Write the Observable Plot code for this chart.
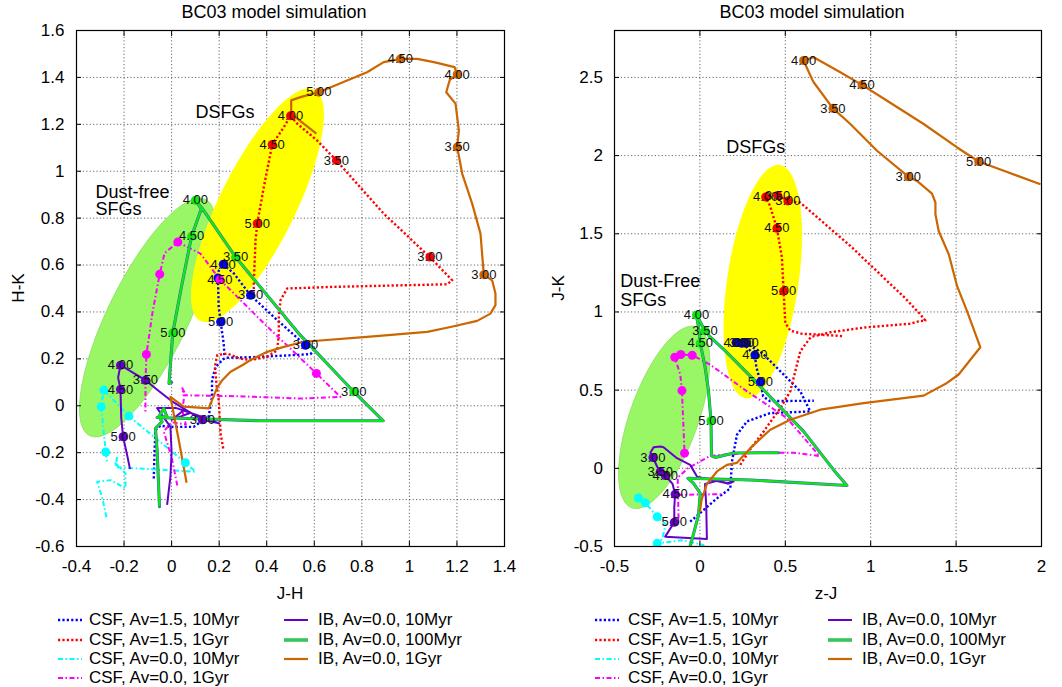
<!DOCTYPE html>
<html>
<head>
<meta charset="utf-8">
<script src="https://cdn.jsdelivr.net/npm/d3@7"></script>
<script src="https://cdn.jsdelivr.net/npm/@observablehq/plot@0.6"></script>
<style>
  body { margin: 0; background: #fff; }
  #wrap { position: relative; width: 1062px; height: 687px; overflow: hidden;
          font-family: "Liberation Sans", Arial, Helvetica, sans-serif; color: #000; }
  .abs { position: absolute; white-space: nowrap; }
  .title { font-size: 18px; line-height: 18px; top: 3px; transform: translateX(-50%); }
  .axlab { font-size: 17px; line-height: 17px; }
  .leg { font-size: 17px; line-height: 17px; }
</style>
</head>
<body>
<div id="wrap"></div>
<script>
// ---------- series names (legend order) ----------
const seriesNames = [
  "CSF, Av=1.5, 10Myr", "CSF, Av=1.5, 1Gyr", "CSF, Av=0.0, 10Myr", "CSF, Av=0.0, 1Gyr",
  "IB, Av=0.0, 10Myr", "IB, Av=0.0, 100Myr", "IB, Av=0.0, 1Gyr"
];

// ---------- left panel: J-H (x) vs H-K (y) ----------
const hkCsf15_10Myr = [[-0.075,-0.31],[-0.072,-0.2],[-0.068,-0.104],[-0.047,-0.085],[-0.005,-0.09],[0.093,-0.09],[0.156,-0.045],[0.17,0.038],[0.17,0.109],[0.185,0.166],[0.219,0.2],[0.234,0.205],[0.332,0.207],[0.472,0.214],[0.584,0.22],[0.605,0.244],[0.563,0.258],[0.45,0.36],[0.332,0.471],[0.262,0.564],[0.217,0.603],[0.198,0.575],[0.195,0.54],[0.198,0.422],[0.206,0.358],[0.219,0.266],[0.222,0.215]];
const hkCsf15_1Gyr = [[0.217,-0.182],[0.206,-0.118],[0.198,0.024],[0.19,0.08],[0.182,0.166],[0.192,0.216],[0.234,0.223],[0.283,0.202],[0.332,0.195],[0.402,0.209],[0.444,0.237],[0.451,0.308],[0.451,0.379],[0.458,0.45],[0.486,0.5],[0.682,0.507],[1.159,0.518],[1.18,0.535],[1.086,0.634],[0.892,0.819],[0.693,1.046],[0.612,1.131],[0.528,1.203],[0.5,1.236],[0.472,1.188],[0.423,1.114],[0.388,0.933],[0.36,0.777],[0.353,0.706],[0.346,0.535],[0.345,0.47]];
const hkCsf00_10Myr = [[-0.274,-0.475],[-0.29,-0.4],[-0.313,-0.324],[-0.257,-0.317],[-0.194,-0.352],[-0.194,-0.288],[-0.236,-0.245],[-0.229,-0.217],[-0.236,-0.262],[0.1,-0.281],[0.058,-0.243],[-0.18,-0.044],[-0.285,0.067],[-0.296,-0.004],[-0.277,-0.197],[-0.272,-0.24]];
const hkCsf00_1Gyr = [[0.024,-0.34],[0.0,-0.22],[-0.033,-0.11],[0.0,-0.07],[0.06,-0.08],[0.045,-0.02],[0.055,0.055],[0.045,0.075],[0.05,0.045],[0.3,0.04],[0.542,0.031],[0.71,0.038],[0.609,0.138],[0.4,0.34],[0.203,0.538],[0.121,0.649],[0.026,0.698],[-0.03,0.65],[-0.05,0.561],[-0.08,0.4],[-0.106,0.219],[-0.11,0.1],[-0.11,-0.03]];
const hkIb_10Myr = [[-0.019,-0.423],[-0.005,-0.302],[0.0,-0.2],[-0.005,-0.09],[-0.061,-0.01],[0.02,-0.01],[0.08,-0.03],[0.0,-0.06],[0.05,-0.02],[0.15,-0.055],[0.2,-0.075],[0.129,-0.06],[0.0,0.02],[-0.05,0.06],[-0.11,0.109],[-0.215,0.173],[-0.225,0.12],[-0.215,0.07],[-0.212,-0.05],[-0.204,-0.132],[-0.185,-0.22],[-0.175,-0.27]];
const hkIb_100Myr = [[-0.051,-0.43],[-0.061,-0.189],[-0.068,-0.096],[-0.04,-0.068],[-0.054,-0.047],[-0.033,-0.011],[-0.02,-0.045],[-0.061,-0.05],[0.374,-0.064],[0.89,-0.064],[0.766,0.06],[0.542,0.3],[0.269,0.634],[0.13,0.84],[0.1,0.876],[0.125,0.84],[0.084,0.723],[0.04,0.5],[0.005,0.311],[-0.011,0.095],[0.0,0.1]];
const hkIb_1Gyr = [[0.063,-0.328],[0.03,-0.146],[-0.005,0.038],[0.051,-0.004],[0.156,-0.011],[0.19,0.074],[0.213,0.109],[0.248,0.145],[0.297,0.173],[0.332,0.195],[0.402,0.23],[0.472,0.251],[0.556,0.273],[0.822,0.294],[1.075,0.315],[1.173,0.336],[1.285,0.362],[1.341,0.393],[1.362,0.429],[1.362,0.479],[1.348,0.535],[1.313,0.559],[1.299,0.734],[1.264,0.862],[1.222,0.99],[1.201,1.103],[1.208,1.174],[1.194,1.288],[1.155,1.337],[1.17,1.39],[1.201,1.413],[1.19,1.444],[1.103,1.465],[1.033,1.479],[0.962,1.479],[0.892,1.465],[0.822,1.422],[0.738,1.387],[0.619,1.337],[0.542,1.316],[0.503,1.302],[0.503,1.245],[0.609,1.16]];

// redshift markers on the left-panel tracks: [J-H, H-K, label]
const hkCsf15_10Myr_z = [[0.563,0.258,"3.00"],[0.332,0.471,"3.50"],[0.217,0.603,"4.00"],[0.195,0.545,""],[0.206,0.358,"5.00"]];
const hkCsf15_1Gyr_z = [[1.086,0.634,"3.00"],[0.693,1.046,"3.50"],[0.5,1.236,"4.00"],[0.423,1.114,"4.50"],[0.36,0.777,"5.00"]];
const hkCsf00_10Myr_z = [[0.058,-0.243,""],[-0.18,-0.044,""],[-0.285,0.067,""],[-0.296,-0.004,""],[-0.277,-0.197,""]];
const hkCsf00_1Gyr_z = [[0.609,0.138,""],[0.203,0.538,"4.50"],[0.026,0.698,""],[-0.05,0.561,""],[-0.106,0.219,""]];
const hkIb_10Myr_z = [[0.129,-0.06,"3.00"],[-0.11,0.109,"3.50"],[-0.215,0.173,"4.00"],[-0.215,0.07,"4.50"],[-0.204,-0.132,"5.00"]];
const hkIb_100Myr_z = [[0.766,0.06,"3.00"],[0.269,0.634,"3.50"],[0.1,0.876,"4.00"],[0.084,0.723,"4.50"],[0.005,0.311,"5.00"]];
const hkIb_1Gyr_z = [[1.313,0.559,"3.00"],[1.201,1.103,"3.50"],[1.201,1.413,"4.00"],[0.962,1.479,"4.50"],[0.619,1.337,"5.00"]];

// ---------- right panel: z-J (x) vs J-K (y) ----------
const jkCsf15_10Myr = [[-0.057,-0.341],[0.1,-0.192],[0.178,-0.128],[0.188,0.044],[0.217,0.215],[0.276,0.3],[0.412,0.353],[0.607,0.362],[0.646,0.364],[0.588,0.492],[0.51,0.578],[0.364,0.738],[0.27,0.8],[0.245,0.8],[0.212,0.805],[0.26,0.79],[0.322,0.725],[0.33,0.65],[0.354,0.553],[0.37,0.46],[0.41,0.43],[0.667,0.432]];
const jkCsf15_1Gyr = [[0.236,0.022],[0.3,0.13],[0.373,0.236],[0.471,0.385],[0.529,0.492],[0.588,0.749],[0.65,0.84],[0.764,0.87],[0.959,0.9],[1.232,0.925],[1.281,0.94],[1.32,0.945],[1.291,0.984],[1.2,1.09],[0.881,1.422],[0.588,1.699],[0.515,1.71],[0.455,1.745],[0.385,1.735],[0.41,1.68],[0.451,1.535],[0.48,1.35],[0.49,1.133],[0.5,0.93],[0.53,0.88],[0.6,0.86],[0.686,0.856],[0.842,0.845]];
const jkCsf00_10Myr = [[-0.36,-0.19],[-0.32,-0.22],[-0.25,-0.31],[-0.2,-0.36],[-0.22,-0.45],[-0.25,-0.48],[-0.1,-0.46],[0.02,-0.49],[0.05,-0.56]];
const jkCsf00_1Gyr = [[-0.125,-0.32],[-0.13,-0.06],[-0.07,0.0],[0.06,0.08],[0.3,0.1],[0.55,0.1],[0.7,0.078],[0.51,0.321],[0.276,0.492],[0.06,0.663],[-0.045,0.723],[-0.112,0.728],[-0.147,0.71],[-0.115,0.6],[-0.105,0.497],[-0.09,0.097],[NaN,NaN],[-0.13,-0.17],[0.14,-0.165]];
const jkIb_10Myr = [[0.16,-0.1],[0.197,-0.085],[0.158,-0.096],[-0.017,-0.053],[-0.057,0.022],[-0.134,0.065],[-0.213,0.135],[-0.232,0.14],[-0.271,0.135],[-0.29,0.1],[-0.275,0.069],[-0.25,0.01],[-0.232,-0.021],[-0.203,-0.046],[-0.16,-0.1],[-0.145,-0.166],[-0.15,-0.25],[-0.15,-0.345],[-0.203,-0.437],[0.041,-0.452],[0.037,-0.234],[0.03,-0.1],[0.1,-0.08],[0.178,-0.074]];
const jkIb_100Myr = [[-0.057,-0.5],[-0.008,-0.298],[0.002,-0.16],[-0.037,-0.096],[-0.07,-0.064],[0.3,-0.075],[0.861,-0.11],[0.783,-0.01],[0.607,0.236],[0.334,0.546],[0.15,0.75],[0.06,0.84],[0.03,0.88],[-0.02,0.98],[-0.005,0.88],[0.002,0.8],[0.03,0.65],[0.05,0.5],[0.065,0.304],[0.068,0.08],[0.09,0.07],[0.2,0.098],[0.46,0.1]];
const jkIb_1Gyr = [[0.0,-0.28],[0.01,-0.2],[0.041,-0.1],[0.1,-0.02],[0.158,0.022],[0.217,0.035],[0.295,0.129],[0.412,0.247],[0.529,0.311],[0.705,0.375],[0.959,0.417],[1.31,0.465],[1.447,0.546],[1.515,0.6],[1.642,0.774],[1.564,1.005],[1.506,1.165],[1.457,1.369],[1.398,1.518],[1.379,1.625],[1.379,1.7],[1.359,1.757],[1.271,1.838],[1.22,1.865],[1.037,2.031],[0.881,2.202],[0.779,2.302],[0.666,2.469],[0.656,2.49],[0.607,2.608],[0.666,2.629],[0.822,2.533],[0.949,2.452],[1.096,2.351],[1.31,2.202],[1.506,2.052],[1.632,1.962],[1.779,1.903],[1.994,1.817]];

// redshift markers on the right-panel tracks: [z-J, J-K, label]
const jkCsf15_10Myr_z = [[0.27,0.8,"3.00"],[0.245,0.8,"3.50"],[0.212,0.805,"4.00"],[0.322,0.725,"4.50"],[0.354,0.553,"5.00"]];
const jkCsf15_1Gyr_z = [[0.515,1.71,"3.00"],[0.455,1.745,"3.50"],[0.385,1.735,"4.00"],[0.451,1.535,"4.50"],[0.49,1.133,"5.00"]];
const jkCsf00_10Myr_z = [[-0.36,-0.19,""],[-0.32,-0.22,""],[-0.25,-0.31,""],[-0.25,-0.48,""]];
const jkCsf00_1Gyr_z = [[-0.147,0.71,""],[-0.112,0.728,""],[-0.045,0.723,""],[-0.105,0.497,""],[-0.09,0.097,""]];
const jkIb_10Myr_z = [[-0.275,0.069,"3.00"],[-0.232,-0.021,"3.50"],[-0.203,-0.046,"4.00"],[-0.145,-0.166,"4.50"],[-0.15,-0.345,"5.00"]];
const jkIb_100Myr_z = [[0.03,0.88,"3.50"],[-0.02,0.98,"4.00"],[0.002,0.8,"4.50"],[0.065,0.304,"5.00"]];
const jkIb_1Gyr_z = [[1.22,1.865,"3.00"],[0.779,2.302,"3.50"],[0.607,2.608,"4.00"],[0.949,2.452,"4.50"],[1.632,1.962,"5.00"]];

// ---------- galaxy-population regions: [cx, cy, top-dx, top-dy, half-width] ----------
const hkDustFree = [-0.101, 0.376, 0.2187, 0.5089, 0.185];
const hkDsfg = [0.361, 0.855, 0.2166, 0.4983, 0.1766];
const jkDustFree = [-0.209, 0.326, 0.164, 0.5833, 0.2109];
const jkDsfg = [0.368, 1.194, 0.0908, 0.7468, 0.2109];

const hkRegionText = [["DSFGs", 0.1, 1.251], ["Dust-free", -0.32, 0.912], ["SFGs", -0.32, 0.838]];
const jkRegionText = [["DSFGs", 0.154, 2.053], ["Dust-Free", -0.466, 1.197], ["SFGs", -0.466, 1.076]];

// ---------- axis ticks ----------
const hkXTicks = [-0.4, -0.2, 0, 0.2, 0.4, 0.6, 0.8, 1, 1.2, 1.4];
const hkYTicks = [-0.6, -0.4, -0.2, 0, 0.2, 0.4, 0.6, 0.8, 1, 1.2, 1.4, 1.6];
const jkXTicks = [-0.5, 0, 0.5, 1, 1.5, 2];
const jkYTicks = [-0.5, 0, 0.5, 1, 1.5, 2, 2.5];

// ---------- line styles, one per series ----------
const styles = [
  {color: "#0000ff", width: 2.4, dash: "2.2,2.2"},
  {color: "#ff0000", width: 2.4, dash: "2.2,2.2"},
  {color: "#00ffff", width: 2, dash: "5,2.5,1.5,2.5"},
  {color: "#ff00ff", width: 2, dash: "5,2.5,1.5,2.5"},
  {color: "#6600cc", width: 2, dash: null},
  {color: "#11e811", width: 2.2, dash: null, under: "#3a62c8"},
  {color: "#cc6600", width: 2.2, dash: null}
];

const fmt = d => String(Math.round(d * 10) / 10);
const X = d => d[0], Y = d => d[1];

// Outline of a tilted ellipse from its centre, the offset of its top point and its half-width
function ellipseRing([cx, cy, tx, ty, w]) {
  return d3.range(0, 360, 3).map(a => {
    const t = a * Math.PI / 180;
    return [cx + tx * Math.cos(t) + w * Math.sin(t), cy + ty * Math.cos(t)];
  });
}

function panel(cfg) {
  const grid = {stroke: "#000", strokeOpacity: 0.6, strokeDasharray: "1.2,2.2"};
  const marks = [
    Plot.gridX(cfg.xTicks, grid),
    Plot.gridY(cfg.yTicks, grid),
    Plot.line(ellipseRing(cfg.dustFree), {x: X, y: Y, fill: "#99f766", stroke: "#86e05a", strokeWidth: 0.8, curve: "linear-closed"}),
    Plot.line(ellipseRing(cfg.dsfg), {x: X, y: Y, fill: "#ffff00", stroke: "none", curve: "linear-closed"}),
    Plot.text(cfg.regionText, {x: d => d[1], y: d => d[2], text: d => d[0], textAnchor: "start", fontSize: 18, fill: "#000"})
  ];
  cfg.tracks.forEach((t, i) => {
    const s = styles[i];
    if (s.under) marks.push(Plot.line(t, {x: X, y: Y, stroke: s.under, strokeWidth: s.width + 0.9, clip: true}));
    marks.push(Plot.line(t, {x: X, y: Y, stroke: s.color, strokeWidth: s.width,
      strokeDasharray: s.dash, strokeLinecap: "butt", clip: true}));
  });
  cfg.markers.forEach((m, i) => {
    marks.push(Plot.dot(m, {x: X, y: Y, r: 4.5, fill: styles[i].color, stroke: "none", clip: true}));
  });
  cfg.markers.forEach(m => {
    marks.push(Plot.text(m.filter(d => d[2]), {x: X, y: Y, text: d => d[2], fontSize: 13, fill: "#111"}));
  });
  marks.push(
    Plot.axisX(cfg.xTicks, {anchor: "bottom", tickSize: -5, tickPadding: 18, tickFormat: fmt, fontSize: 17, label: null}),
    Plot.axisX(cfg.xTicks, {anchor: "top", tickSize: -5, tickFormat: () => "", label: null}),
    Plot.axisY(cfg.yTicks, {anchor: "left", tickSize: -5, tickPadding: cfg.yPad, tickFormat: fmt, fontSize: 17, label: null}),
    Plot.axisY(cfg.yTicks, {anchor: "right", tickSize: -5, tickFormat: () => "", label: null}),
    Plot.frame({stroke: "#000", strokeWidth: 1.2})
  );
  return Plot.plot({
    width: 531, height: 600,
    marginLeft: cfg.marginLeft, marginRight: cfg.marginRight, marginTop: 30, marginBottom: 54,
    x: {domain: cfg.xDomain, label: null},
    y: {domain: cfg.yDomain, label: null},
    style: {fontFamily: "Liberation Sans, Arial, Helvetica, sans-serif", fontSize: "17px", background: "none", overflow: "visible", color: "#000"},
    marks
  });
}

const wrap = d3.select("#wrap");

const left = panel({
  xDomain: [-0.4, 1.4], yDomain: [-0.6, 1.6], xTicks: hkXTicks, yTicks: hkYTicks,
  marginLeft: 76, marginRight: 27, yPad: 17,
  dustFree: hkDustFree, dsfg: hkDsfg, regionText: hkRegionText,
  tracks: [hkCsf15_10Myr, hkCsf15_1Gyr, hkCsf00_10Myr, hkCsf00_1Gyr, hkIb_10Myr, hkIb_100Myr, hkIb_1Gyr],
  markers: [hkCsf15_10Myr_z, hkCsf15_1Gyr_z, hkCsf00_10Myr_z, hkCsf00_1Gyr_z, hkIb_10Myr_z, hkIb_100Myr_z, hkIb_1Gyr_z]
});
const right = panel({
  xDomain: [-0.5, 2], yDomain: [-0.5, 2.8], xTicks: jkXTicks, yTicks: jkYTicks,
  marginLeft: 83, marginRight: 21, yPad: 16.5,
  dustFree: jkDustFree, dsfg: jkDsfg, regionText: jkRegionText,
  tracks: [jkCsf15_10Myr, jkCsf15_1Gyr, jkCsf00_10Myr, jkCsf00_1Gyr, jkIb_10Myr, jkIb_100Myr, jkIb_1Gyr],
  markers: [jkCsf15_10Myr_z, jkCsf15_1Gyr_z, jkCsf00_10Myr_z, jkCsf00_1Gyr_z, jkIb_10Myr_z, jkIb_100Myr_z, jkIb_1Gyr_z]
});

wrap.append("div").attr("class", "abs").style("left", "0px").style("top", "0px").node().appendChild(left);
wrap.append("div").attr("class", "abs").style("left", "531px").style("top", "0px").node().appendChild(right);

// titles and axis names
const titles = [["BC03 model simulation", 274], ["BC03 model simulation", 812]];
titles.forEach(([t, x]) => wrap.append("div").attr("class", "abs title").style("left", x + "px").text(t));

const xNames = [["J-H", 290], ["z-J", 826]];
xNames.forEach(([t, x]) => wrap.append("div").attr("class", "abs axlab")
  .style("left", x + "px").style("top", "585px").style("transform", "translateX(-50%)").text(t));

const yNames = [["H-K", 18], ["J-K", 558]];
yNames.forEach(([t, x]) => wrap.append("div").attr("class", "abs axlab")
  .style("left", x + "px").style("top", "288px")
  .style("transform", "translate(-50%,-50%) rotate(-90deg)").text(t));

// legends under each panel
const legendCols = [[0, 1, 2, 3], [4, 5, 6]];
const legendRowY = [620, 640, 659, 678];
const legendPlaces = [
  [{sx: 58, tx: 89}, {sx: 284, tx: 318}],
  [{sx: 595, tx: 628}, {sx: 828, tx: 862}]
];
legendPlaces.forEach(cols => {
  cols.forEach((place, c) => {
    legendCols[c].forEach((si, r) => {
      const s = styles[si];
      const cy = legendRowY[r];
      const sw = wrap.append("svg").attr("class", "abs")
        .attr("width", 24).attr("height", 8)
        .style("left", place.sx + "px").style("top", (cy - 4) + "px");
      if (s.under) sw.append("line").attr("x1", 0).attr("x2", 24).attr("y1", 4).attr("y2", 4)
        .attr("stroke", s.under).attr("stroke-width", s.width + 0.9);
      sw.append("line").attr("x1", 0).attr("x2", 24).attr("y1", 4).attr("y2", 4)
        .attr("stroke", s.color).attr("stroke-width", s.width)
        .attr("stroke-dasharray", s.dash);
      wrap.append("div").attr("class", "abs leg")
        .style("left", place.tx + "px").style("top", (cy - 9) + "px")
        .text(seriesNames[si]);
    });
  });
});
</script>
</body>
</html>
